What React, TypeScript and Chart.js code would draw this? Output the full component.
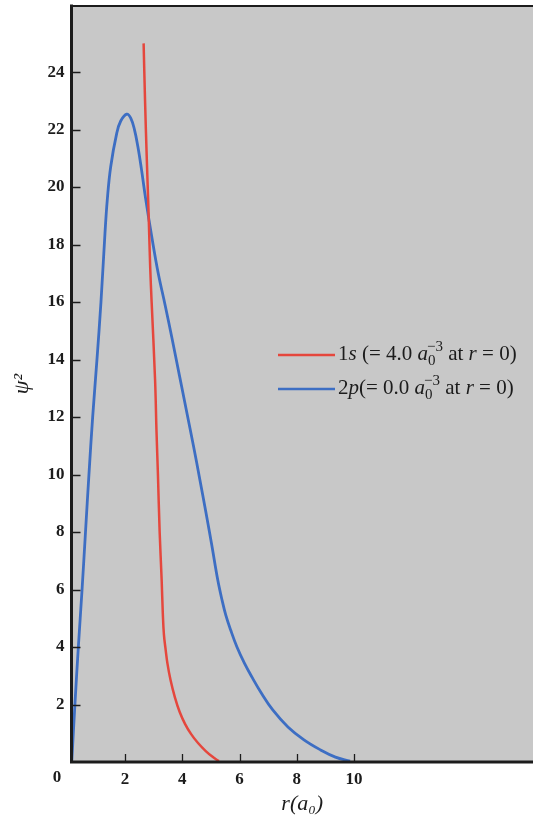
import React, { useEffect, useRef } from 'react';
import { Chart, registerables } from 'chart.js';

Chart.register(...registerables);

// ---- data ----
const r1s = [2.65, 2.7, 2.76, 2.82, 2.88, 2.93, 3.05, 3.1, 3.15, 3.21, 3.28, 3.32, 3.36, 3.42, 3.48, 3.59, 3.74, 3.91, 4.1, 4.31, 4.55, 4.82, 5.07, 5.28];
const psi1s = [25, 23, 21, 19.2, 17.2, 16, 13.3, 11.5, 10, 8, 6.33, 5.18, 4.42, 3.9, 3.44, 2.85, 2.26, 1.74, 1.32, 0.97, 0.66, 0.38, 0.17, 0.03];

const r2p = [0.14, 0.25, 0.37, 0.5, 0.62, 0.74, 0.87, 1.02, 1.16, 1.3, 1.38, 1.5, 1.71, 1.85, 2.06, 2.2, 2.33, 2.45, 2.57, 2.72, 2.93, 3.16, 3.4, 3.65, 3.9, 4.15, 4.39, 4.6, 4.83, 5.03, 5.24, 5.39, 5.52, 5.69, 5.91, 6.17, 6.43, 6.76, 7.16, 7.69, 8.25, 8.83, 9.35, 9.86];
const psi2p = [0, 2, 4, 6, 8, 10, 12, 14, 16, 18.39, 19.55, 20.71, 21.87, 22.3, 22.54, 22.4, 22.0, 21.4, 20.65, 19.6, 18.3, 17.0, 15.9, 14.7, 13.45, 12.2, 11.0, 9.9, 8.66, 7.55, 6.33, 5.63, 5.11, 4.59, 4.0, 3.44, 2.96, 2.4, 1.81, 1.22, 0.77, 0.42, 0.17, 0.03];

const xTicks = [2, 4, 6, 8, 10];
const yTicks = [2, 4, 6, 8, 10, 12, 14, 16, 18, 20, 22, 24];
const cornerLabel = '0';

const seriesLabels = ['1s (= 4.0 a₀⁻³ at r = 0)', '2p(= 0.0 a₀⁻³ at r = 0)'];
const xTitle = 'r(a₀)';
const yTitle = 'ψ²';

type Seg = { text?: string; i?: boolean; sub?: string; sup?: string };
const legendRich: Seg[][] = [
  [{ text: '1' }, { text: 's', i: true }, { text: ' (= 4.0 ' }, { text: 'a', i: true }, { sub: '0', sup: '−3' }, { text: ' at ' }, { text: 'r', i: true }, { text: ' = 0)' }],
  [{ text: '2' }, { text: 'p', i: true }, { text: '(= 0.0 ' }, { text: 'a', i: true }, { sub: '0', sup: '−3' }, { text: ' at ' }, { text: 'r', i: true }, { text: ' = 0)' }],
];

const FAM = '"Liberation Serif", "DejaVu Serif", serif';
const RED = '#e5473d';
const BLUE = '#3d6ec3';
const BG = '#c8c8c8';
const INK = '#1c1c1c';

const framePlugin = {
  id: 'frame',
  beforeDraw(chart: any) {
    const { ctx, chartArea: a } = chart;
    ctx.save();
    ctx.fillStyle = BG;
    ctx.fillRect(a.left, a.top, a.right - a.left, a.bottom - a.top);
    ctx.restore();
  },
  afterDatasetsDraw(chart: any) {
    const { ctx, chartArea: a, scales } = chart;
    ctx.save();
    // inner tick marks
    ctx.strokeStyle = INK;
    ctx.lineWidth = 1.3;
    ctx.beginPath();
    for (const v of yTicks) {
      const py = Math.round(scales.y.getPixelForValue(v)) + 0.5;
      ctx.moveTo(a.left, py);
      ctx.lineTo(a.left + 9, py);
    }
    for (const v of xTicks) {
      const px = Math.round(scales.x.getPixelForValue(v)) + 0.5;
      ctx.moveTo(px, a.bottom);
      ctx.lineTo(px, a.bottom - 8);
    }
    ctx.stroke();
    // frame: left, top, bottom
    ctx.lineCap = 'square';
    ctx.lineWidth = 3;
    ctx.beginPath();
    ctx.moveTo(a.left, a.bottom);
    ctx.lineTo(a.left, a.top);
    ctx.moveTo(a.left, a.bottom);
    ctx.lineTo(a.right + 2, a.bottom);
    ctx.stroke();
    ctx.lineWidth = 2.2;
    ctx.beginPath();
    ctx.moveTo(a.left, a.top);
    ctx.lineTo(a.right + 2, a.top);
    ctx.stroke();
    // corner "0" label
    ctx.fillStyle = INK;
    ctx.font = `bold 17px ${FAM}`;
    ctx.textAlign = 'center';
    ctx.textBaseline = 'top';
    ctx.fillText(cornerLabel, a.left - 14.5, a.bottom + 7);

    // legend
    const lx0 = 278, lx1 = 335, ys = [355, 389];
    chart.data.datasets.forEach((ds: any, i: number) => {
      const y = ys[i];
      ctx.strokeStyle = ds.borderColor;
      ctx.lineWidth = 2.5;
      ctx.lineCap = 'butt';
      ctx.beginPath();
      ctx.moveTo(lx0, y);
      ctx.lineTo(lx1, y);
      ctx.stroke();
      ctx.fillStyle = INK;
      ctx.textAlign = 'left';
      ctx.textBaseline = 'alphabetic';
      let cx = 338;
      const base = y + 5;
      for (const s of legendRich[i]) {
        if (s.sub !== undefined) {
          ctx.font = `15px ${FAM}`;
          const w1 = ctx.measureText(s.sub).width;
          const w2 = ctx.measureText(s.sup || '').width;
          ctx.fillText(s.sub, cx, base + 5);
          ctx.fillText(s.sup || '', cx - 1, base - 9);
          cx += Math.max(w1, w2 - 1);
        } else {
          ctx.font = `${s.i ? 'italic ' : ''}21px ${FAM}`;
          ctx.fillText(s.text || '', cx, base);
          cx += ctx.measureText(s.text || '').width;
        }
      }
    });
    ctx.restore();
  },
};

export default function App() {
  const ref = useRef<HTMLCanvasElement>(null);
  useEffect(() => {
    document.body.style.margin = '0';
    const ctx = ref.current!.getContext('2d')!;
    const chart = new Chart(ctx, {
      type: 'line',
      data: {
        datasets: [
          {
            label: seriesLabels[0],
            data: r1s.map((x, i) => ({ x, y: psi1s[i] })),
            borderColor: RED,
            borderWidth: 2.5,
            pointRadius: 0,
            tension: 0.4,
            fill: false,
          },
          {
            label: seriesLabels[1],
            data: r2p.map((x, i) => ({ x, y: psi2p[i] })),
            borderColor: BLUE,
            borderWidth: 2.8,
            pointRadius: 0,
            tension: 0.4,
            fill: false,
          },
        ],
      },
      options: {
        animation: false,
        responsive: true,
        maintainAspectRatio: false,
        layout: { padding: { top: 6, right: 0, left: 0, bottom: 0 } },
        plugins: { legend: { display: false }, tooltip: { enabled: false } },
        scales: {
          x: {
            type: 'linear',
            min: 0.131,
            max: 16.25,
            grid: { display: false, drawTicks: false },
            border: { display: false },
            afterBuildTicks: (s: any) => {
              s.ticks = xTicks.map((v) => ({ value: v }));
            },
            afterFit: (s: any) => {
              s.height = 62;
              s.paddingLeft = 0;
              s.paddingRight = 0;
            },
            ticks: {
              font: { family: FAM, size: 17, weight: 'bold' },
              color: INK,
              padding: 7,
              maxRotation: 0,
              autoSkip: false,
            },
            title: {
              display: true,
              text: xTitle,
              font: { family: FAM, size: 22, style: 'italic' },
              color: INK,
              padding: { top: 0, bottom: 7 },
            },
          },
          y: {
            type: 'linear',
            min: 0,
            max: 26.3,
            grid: { display: false, drawTicks: false },
            border: { display: false },
            afterBuildTicks: (s: any) => {
              s.ticks = yTicks.map((v) => ({ value: v }));
            },
            afterFit: (s: any) => {
              s.width = 71.5;
              s.paddingTop = 0;
              s.paddingBottom = 0;
            },
            ticks: {
              font: { family: FAM, size: 17, weight: 'bold' },
              color: INK,
              padding: 7,
              autoSkip: false,
            },
            title: {
              display: true,
              text: yTitle,
              font: { family: FAM, size: 22, style: 'italic' },
              color: INK,
              padding: { top: 9, bottom: 0 },
            },
          },
        },
      },
      plugins: [framePlugin],
    } as any);
    return () => chart.destroy();
  }, []);
  return (
    <div style={{ width: 533, height: 824, position: 'relative', background: '#fff' }}>
      <canvas ref={ref} />
    </div>
  );
}
